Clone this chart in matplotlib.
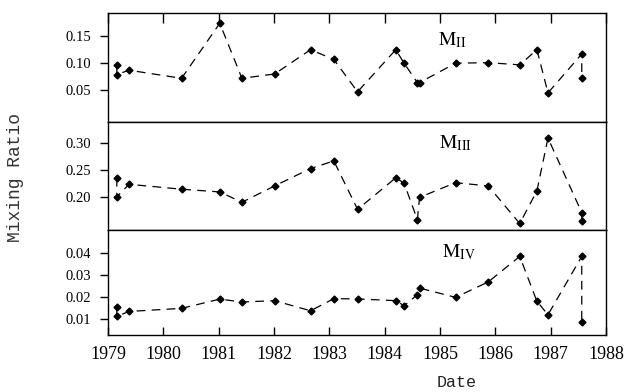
import matplotlib.pyplot as plt

# sampling dates (decimal years); first and last dates carry two samples
dates = [1979.16, 1979.16, 1979.38, 1980.33, 1981.02, 1981.42, 1982.01, 1982.66,
         1983.08, 1983.51, 1984.20, 1984.35, 1984.59, 1984.63, 1985.28, 1985.87,
         1986.44, 1986.75, 1986.95, 1987.56, 1987.56]

m_ii = [0.096, 0.079, 0.087, 0.072, 0.174, 0.072, 0.080, 0.125, 0.107, 0.047, 0.125,
        0.100, 0.064, 0.064, 0.100, 0.101, 0.097, 0.125, 0.045, 0.117, 0.072]
m_iii = [0.236, 0.201, 0.224, 0.215, 0.210, 0.191, 0.221, 0.253, 0.267, 0.178, 0.236,
         0.226, 0.159, 0.200, 0.227, 0.221, 0.152, 0.212, 0.309, 0.172, 0.156]
m_iv = [0.0156, 0.0114, 0.0136, 0.0150, 0.0192, 0.0179, 0.0185, 0.0139, 0.0194, 0.0193, 0.0185,
        0.0162, 0.0212, 0.0242, 0.0200, 0.0270, 0.0386, 0.0182, 0.0121, 0.0386, 0.0088]

panel_labels = [r'$\mathrm{M}_{\mathrm{II}}$', r'$\mathrm{M}_{\mathrm{III}}$', r'$\mathrm{M}_{\mathrm{IV}}$']
yticks = [[0.05, 0.10, 0.15], [0.20, 0.25, 0.30], [0.01, 0.02, 0.03, 0.04]]
ytick_labels = [['0.05', '0.10', '0.15'], ['0.20', '0.25', '0.30'],
                ['0.01', '0.02', '0.03', '0.04']]
years = list(range(1979, 1989))

plt.rcParams['mathtext.fontset'] = 'stix'
plt.rcParams['font.family'] = ['Liberation Serif', 'DejaVu Serif']

fig, axes = plt.subplots(3, 1, figsize=(6.34, 3.92), dpi=100, sharex=True,
                         gridspec_kw={'height_ratios': [109, 108, 105], 'hspace': 0})
fig.subplots_adjust(left=0.1703, right=0.956, top=0.9668, bottom=0.1454)

series = [m_ii, m_iii, m_iv]
ylims = [(-0.009, 0.193), (0.140, 0.3385), (0.0029, 0.0506)]
label_pos = [(0.663, 0.706), (0.665, 0.759), (0.671, 0.743)]

for i, ax in enumerate(axes):
    ax.plot(dates, series[i], color='k', lw=0.9, ls=(0, (7, 5)),
            marker='D', ms=3.5, mfc='k', mec='k')
    ax.set_ylim(ylims[i])
    ax.set_yticks(yticks[i])
    ax.set_yticklabels(ytick_labels[i], fontsize=10.5)
    ax.tick_params(axis='y', direction='out', length=6, width=1, pad=6)
    ax.text(label_pos[i][0], label_pos[i][1], panel_labels[i], transform=ax.transAxes,
            fontsize=14, ha='left', va='baseline')
    for s in ax.spines.values():
        s.set_linewidth(1.0)

ax = axes[2]
ax.set_xlim(1979, 1988)
ax.set_xticks(years)
ax.set_xticklabels([str(y) for y in years], fontsize=13)

axes[0].tick_params(axis='x', top=True, bottom=False, direction='in', length=7, width=1,
                    labelbottom=False)
axes[1].tick_params(axis='x', top=False, bottom=False, labelbottom=False)
axes[2].tick_params(axis='x', top=False, bottom=True, direction='in', length=6, width=1, pad=8)

fig.text(0.025, 0.546, 'Mixing Ratio', rotation=90, ha='center', va='center',
         family='Liberation Mono', fontsize=13, color='#333333')
fig.text(0.72, 0.023, 'Date', ha='center', va='center',
         family='Liberation Mono', fontsize=12, color='#222222')

fig.savefig('out.png', dpi=100)
